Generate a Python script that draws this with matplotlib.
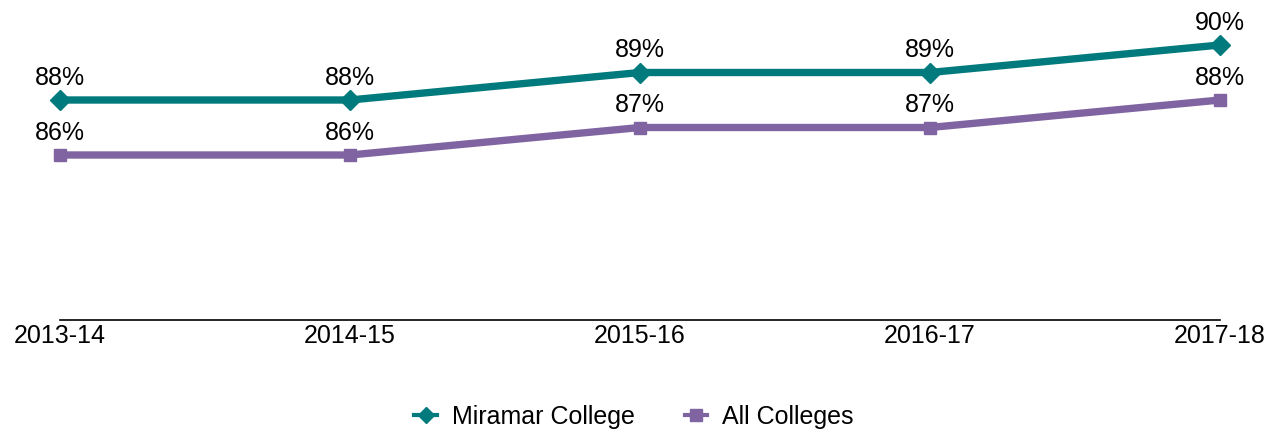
import matplotlib
matplotlib.use("Agg")
import matplotlib.pyplot as plt
from matplotlib.lines import Line2D

plt.rcParams['font.family'] = ['Liberation Sans', 'DejaVu Sans']

years = ["2013-14", "2014-15", "2015-16", "2016-17", "2017-18"]
miramar = [88, 88, 89, 89, 90]
all_colleges = [86, 86, 87, 87, 88]
series_names = ["Miramar College", "All Colleges"]

teal = "#007A7C"
purple = "#8064A2"
FS = 18

W, H = 1272, 434
fig = plt.figure(figsize=(W / 100, H / 100), dpi=100)
ax = fig.add_axes([60 / W, 114 / H, 1160 / W, 320 / H])

x = list(range(len(years)))
ax.plot(x, miramar, color=teal, lw=5.3, marker="D", ms=10, clip_on=False, zorder=3)
ax.plot(x, all_colleges, color=purple, lw=5.3, marker="s", ms=9, clip_on=False, zorder=3)

for xi, v in zip(x, miramar):
    ax.annotate(f"{v}%", (xi, v), xytext=(0, 11), textcoords="offset points",
                ha="center", va="baseline", fontsize=FS, color="black")
for xi, v in zip(x, all_colleges):
    ax.annotate(f"{v}%", (xi, v), xytext=(0, 11), textcoords="offset points",
                ha="center", va="baseline", fontsize=FS, color="black")

ax.set_xlim(0, len(years) - 1)
ax.set_ylim(80, 80 + 320 / 27.5)
ax.set_xticks(x)
ax.set_xticklabels(years, fontsize=FS)
ax.tick_params(axis="x", length=0, pad=3)
ax.set_yticks([])
for s in ["top", "right", "left"]:
    ax.spines[s].set_visible(False)
ax.spines["bottom"].set_color("black")
ax.spines["bottom"].set_linewidth(1.2)

handles = [
    Line2D([], [], color=teal, lw=3, marker="D", ms=8),
    Line2D([], [], color=purple, lw=3, marker="s", ms=8),
]
fig.legend(handles, series_names, loc="center", bbox_to_anchor=(634 / W, 17 / H),
           ncol=2, frameon=False, fontsize=FS, handlelength=0.9, columnspacing=2.0,
           handletextpad=0.6)

fig.savefig("out.png", dpi=100)
